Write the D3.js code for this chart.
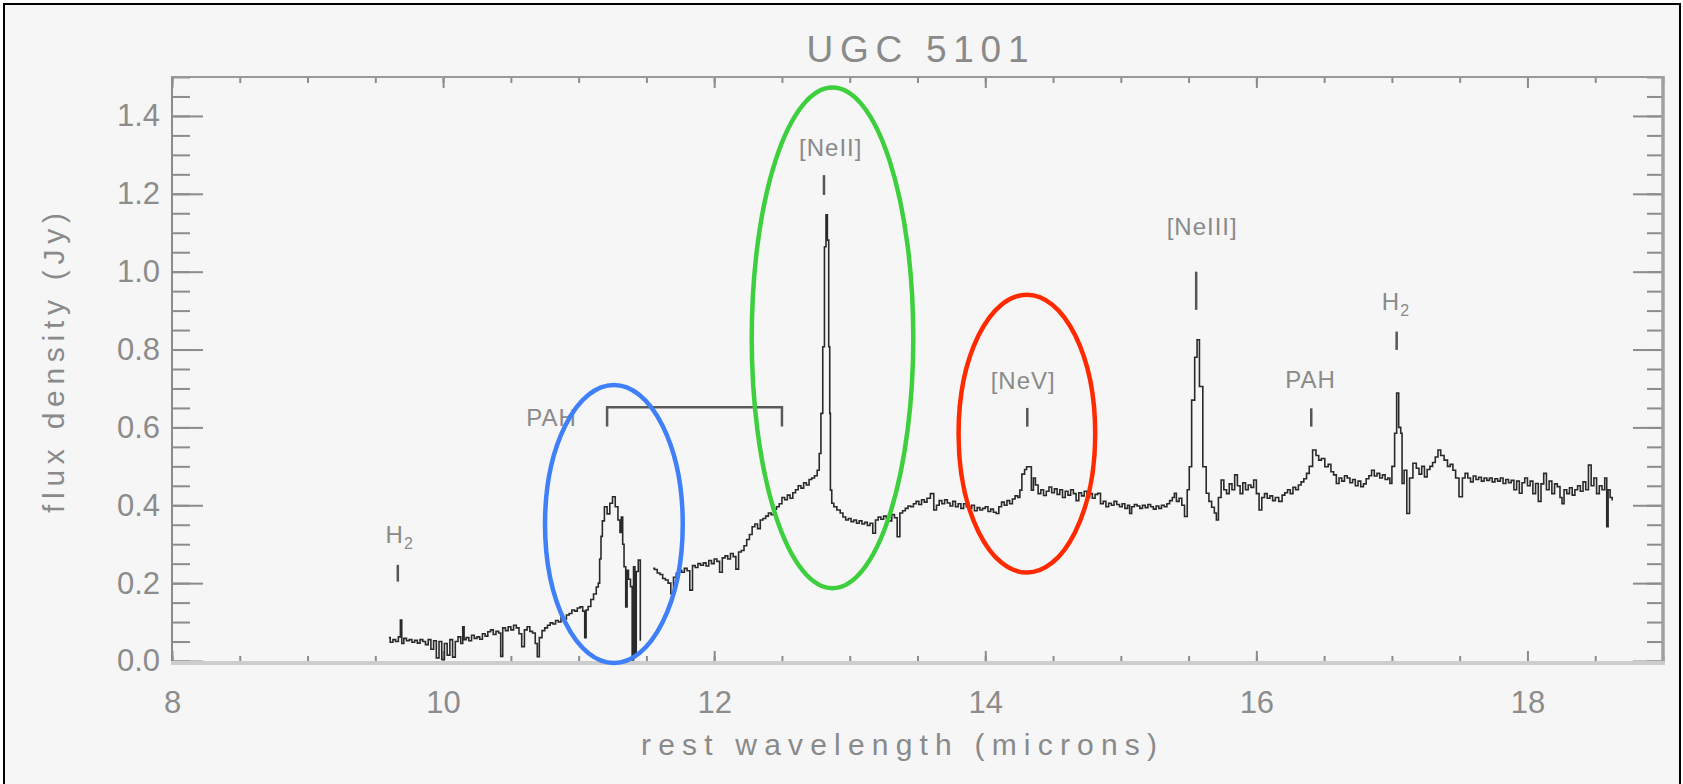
<!DOCTYPE html>
<html>
<head>
<meta charset="utf-8">
<script src="https://cdn.jsdelivr.net/npm/d3@7"></script>
<style>
body { margin: 0; background: #fff; }
svg text { font-family: "Liberation Sans", Arial, sans-serif; }
</style>
</head>
<body>
<div class="chart"></div>
<script>
var w = 1683;
var h = 784;

// spectrum (microns, Jy); null marks the gap between the two orders
var wavelength = [
  9.60, 9.62, 9.64, 9.66, 9.68, 9.69, 9.70, 9.72, 9.74, 9.76, 9.78, 9.80, 9.82, 9.84, 9.86, 9.88,
  9.90, 9.92, 9.94, 9.96, 9.98, 10.00, 10.02, 10.04, 10.06, 10.08, 10.10, 10.12, 10.14, 10.15, 10.16,
  10.18, 10.20, 10.22, 10.24, 10.26, 10.28, 10.30, 10.32, 10.34, 10.36, 10.38, 10.40, 10.42, 10.43,
  10.45, 10.47, 10.49, 10.51, 10.53, 10.55, 10.57, 10.59, 10.61, 10.63, 10.65, 10.67, 10.69, 10.70,
  10.72, 10.74, 10.76, 10.78, 10.80, 10.82, 10.84, 10.86, 10.88, 10.90, 10.92, 10.94, 10.96, 10.98,
  11.00, 11.02, 11.04, 11.05, 11.06, 11.08, 11.10, 11.12, 11.14, 11.15, 11.16, 11.17, 11.18, 11.20,
  11.22, 11.24, 11.26, 11.28, 11.30, 11.31, 11.32, 11.33, 11.34, 11.355, 11.36, 11.375, 11.39, 11.40,
  11.41, 11.42, 11.43, 11.45, 11.46,
  11.50,
  11.55, 11.57, 11.59, 11.61, 11.63, 11.65, 11.67, 11.69, 11.71, 11.73, 11.75, 11.77, 11.79, 11.81,
  11.83, 11.85, 11.87, 11.89, 11.91, 11.93, 11.95, 11.97, 11.99, 12.01, 12.03, 12.05, 12.07, 12.09,
  12.11, 12.13, 12.15, 12.17, 12.19, 12.21, 12.23, 12.25, 12.27, 12.29, 12.31, 12.33, 12.35, 12.37,
  12.39, 12.41, 12.43, 12.45, 12.47, 12.49, 12.51, 12.53, 12.55, 12.57, 12.59, 12.61, 12.63, 12.65,
  12.67, 12.69, 12.71, 12.73, 12.75, 12.77, 12.78, 12.795, 12.807, 12.82, 12.83, 12.84, 12.85, 12.855,
  12.86, 12.875, 12.89, 12.92, 12.94, 12.96, 12.98, 13.00, 13.02, 13.04, 13.06, 13.08, 13.10, 13.12,
  13.14, 13.16, 13.18, 13.20, 13.22, 13.24, 13.26, 13.28, 13.30, 13.32, 13.34, 13.36, 13.38, 13.40,
  13.42, 13.44, 13.46, 13.48, 13.50, 13.52, 13.54, 13.56, 13.58, 13.61, 13.63, 13.65, 13.67, 13.69,
  13.71, 13.73, 13.75, 13.77, 13.79, 13.81, 13.83, 13.85, 13.87, 13.89, 13.91, 13.93, 13.95, 13.97,
  13.99, 14.01, 14.03, 14.05, 14.07, 14.09, 14.11, 14.13, 14.15, 14.17, 14.19, 14.21, 14.23, 14.25,
  14.26, 14.28, 14.30, 14.31, 14.33, 14.35, 14.36, 14.38, 14.40, 14.42, 14.44, 14.46, 14.48, 14.50,
  14.52, 14.54, 14.56, 14.58, 14.60, 14.62, 14.64, 14.66, 14.68, 14.70, 14.72, 14.74, 14.76, 14.78,
  14.80, 14.82, 14.84, 14.86, 14.88, 14.90, 14.92, 14.94, 14.96, 14.98, 15.00, 15.02, 15.04, 15.06,
  15.07, 15.09, 15.11, 15.13, 15.15, 15.17, 15.19, 15.21, 15.23, 15.25, 15.27, 15.29, 15.31, 15.33,
  15.35, 15.37, 15.39, 15.40, 15.42, 15.44, 15.46, 15.48, 15.50, 15.51, 15.535, 15.555, 15.57, 15.59,
  15.62, 15.64, 15.66, 15.68, 15.70, 15.71, 15.73, 15.75, 15.77, 15.79, 15.81, 15.83, 15.85, 15.87,
  15.89, 15.91, 15.93, 15.95, 15.97, 15.99, 16.01, 16.03, 16.05, 16.07, 16.09, 16.11, 16.13, 16.15,
  16.18, 16.20, 16.22, 16.24, 16.26, 16.28, 16.30, 16.32, 16.34, 16.36, 16.38, 16.40, 16.43, 16.45,
  16.47, 16.49, 16.52, 16.54, 16.56, 16.58, 16.60, 16.62, 16.64, 16.66, 16.68, 16.70, 16.72, 16.74,
  16.76, 16.78, 16.80, 16.82, 16.84, 16.86, 16.88, 16.90, 16.92, 16.94, 16.96, 16.98, 16.99, 17.01,
  17.03, 17.04, 17.06, 17.07, 17.08, 17.10, 17.12, 17.14, 17.17, 17.19, 17.21, 17.23, 17.25, 17.27,
  17.29, 17.31, 17.33, 17.35, 17.37, 17.40, 17.42, 17.44, 17.46, 17.48, 17.51, 17.53, 17.55, 17.57,
  17.59, 17.61, 17.63, 17.65, 17.67, 17.69, 17.71, 17.73, 17.75, 17.77, 17.79, 17.81, 17.83, 17.85,
  17.87, 17.89, 17.91, 17.93, 17.95, 17.97, 17.99, 18.01, 18.03, 18.05, 18.07, 18.09, 18.11, 18.13,
  18.15, 18.17, 18.19, 18.21, 18.23, 18.25, 18.26, 18.28, 18.30, 18.32, 18.34, 18.36, 18.38, 18.40,
  18.42, 18.44, 18.46, 18.48, 18.50, 18.52, 18.54, 18.56, 18.58, 18.59, 18.60, 18.62, 18.63
];

var flux = [
  0.060, 0.048, 0.055, 0.050, 0.062, 0.105, 0.045, 0.058, 0.052, 0.055, 0.048, 0.053, 0.046, 0.055, 0.050, 0.042,
  0.055, 0.030, 0.052, 0.008, 0.050, 0.004, 0.045, 0.015, 0.055, 0.010, 0.050, 0.062, 0.045, 0.088, 0.055,
  0.060, 0.052, 0.066, 0.058, 0.062, 0.056, 0.070, 0.064, 0.075, 0.080, 0.068, 0.076, 0.072, 0.012,
  0.085, 0.078, 0.088, 0.080, 0.092, 0.085, 0.070, 0.037, 0.080, 0.088, 0.076, 0.072, 0.045, 0.011,
  0.060, 0.078, 0.085, 0.092, 0.098, 0.095, 0.104, 0.100, 0.112, 0.108, 0.118, 0.122, 0.131, 0.128,
  0.136, 0.139, 0.128, 0.060, 0.131, 0.140, 0.158, 0.172, 0.190, 0.200, 0.262, 0.320, 0.360, 0.396,
  0.378, 0.405, 0.422, 0.396, 0.362, 0.330, 0.370, 0.300, 0.242, 0.139, 0.233, 0.210, 0.191, 0.003,
  0.242, 0.020, 0.230, 0.259, 0.054,
  null,
  0.238, 0.235, 0.226, 0.222, 0.212, 0.208, 0.200, 0.173, 0.215, 0.225, 0.233, 0.228, 0.238, 0.232,
  0.182, 0.245, 0.240, 0.250, 0.246, 0.252, 0.244, 0.258, 0.250, 0.262, 0.256, 0.228, 0.265, 0.270,
  0.262, 0.276, 0.268, 0.236, 0.280, 0.284, 0.296, 0.312, 0.325, 0.345, 0.352, 0.340, 0.362, 0.366,
  0.372, 0.380, 0.376, 0.390, 0.396, 0.404, 0.420, 0.414, 0.426, 0.418, 0.432, 0.440, 0.450, 0.444,
  0.458, 0.452, 0.466, 0.470, 0.476, 0.490, 0.533, 0.636, 0.807, 1.064, 1.146, 1.081, 0.807, 0.636,
  0.439, 0.405, 0.396, 0.388, 0.380, 0.370, 0.362, 0.366, 0.358, 0.362, 0.354, 0.360, 0.352, 0.356,
  0.348, 0.354, 0.328, 0.362, 0.370, 0.364, 0.372, 0.366, 0.360, 0.376, 0.368, 0.319, 0.380, 0.386,
  0.392, 0.398, 0.396, 0.404, 0.410, 0.402, 0.414, 0.408, 0.418, 0.430, 0.388, 0.400, 0.412, 0.404,
  0.414, 0.406, 0.398, 0.410, 0.396, 0.404, 0.392, 0.404, 0.396, 0.392, 0.400, 0.386, 0.394, 0.388,
  0.392, 0.396, 0.384, 0.390, 0.382, 0.379, 0.396, 0.408, 0.400, 0.412, 0.404, 0.416, 0.424, 0.420,
  0.439, 0.480, 0.492, 0.499, 0.499, 0.439, 0.470, 0.452, 0.430, 0.440, 0.425, 0.436, 0.447, 0.432,
  0.442, 0.428, 0.440, 0.420, 0.436, 0.426, 0.440, 0.430, 0.412, 0.432, 0.424, 0.436, 0.420, 0.430,
  0.418, 0.428, 0.431, 0.404, 0.410, 0.396, 0.405, 0.400, 0.410, 0.402, 0.396, 0.404, 0.392, 0.400,
  0.379, 0.396, 0.402, 0.398, 0.392, 0.400, 0.394, 0.402, 0.396, 0.390, 0.398, 0.392, 0.400, 0.396,
  0.404, 0.412, 0.420, 0.431, 0.410, 0.418, 0.400, 0.371, 0.440, 0.499, 0.670, 0.780, 0.825, 0.705,
  0.499, 0.431, 0.410, 0.395, 0.380, 0.362, 0.420, 0.465, 0.440, 0.430, 0.455, 0.440, 0.478, 0.450,
  0.430, 0.458, 0.440, 0.452, 0.446, 0.465, 0.430, 0.388, 0.420, 0.430, 0.418, 0.424, 0.412, 0.420,
  0.410, 0.426, 0.432, 0.440, 0.430, 0.446, 0.440, 0.452, 0.460, 0.468, 0.482, 0.500, 0.542, 0.528,
  0.516, 0.520, 0.499, 0.505, 0.486, 0.478, 0.456, 0.470, 0.462, 0.476, 0.470, 0.458, 0.466, 0.450,
  0.462, 0.448, 0.455, 0.468, 0.476, 0.490, 0.475, 0.482, 0.470, 0.478, 0.466, 0.470, 0.456, 0.500,
  0.585, 0.688, 0.600, 0.585, 0.456, 0.490, 0.379, 0.470, 0.508, 0.495, 0.480, 0.500, 0.473, 0.492,
  0.500, 0.510, 0.524, 0.542, 0.528, 0.516, 0.500, 0.505, 0.490, 0.470, 0.422, 0.470, 0.482, 0.470,
  0.460, 0.475, 0.466, 0.472, 0.462, 0.470, 0.464, 0.470, 0.460, 0.468, 0.462, 0.470, 0.456, 0.466,
  0.458, 0.464, 0.440, 0.462, 0.431, 0.458, 0.470, 0.450, 0.462, 0.430, 0.456, 0.410, 0.455, 0.482,
  0.440, 0.462, 0.430, 0.455, 0.448, 0.420, 0.404, 0.440, 0.430, 0.445, 0.426, 0.440, 0.450, 0.436,
  0.460, 0.440, 0.503, 0.450, 0.470, 0.430, 0.450, 0.440, 0.470, 0.345, 0.440, 0.420, 0.414
];

var xTicks = [8, 10, 12, 14, 16, 18];
var yTicks = [0.0, 0.2, 0.4, 0.6, 0.8, 1.0, 1.2, 1.4];

// line identifications: marker position and label
var lineNames = ["H2", "[NeII]", "[NeV]", "[NeIII]", "PAH", "H2"];
var lineWaves = [9.666, 12.81, 14.31, 15.556, 16.405, 17.035];
var markTop = [0.247, 1.248, 0.650, 1.000, 0.649, 0.846];
var markBottom = [0.204, 1.197, 0.602, 0.902, 0.602, 0.799];
var labelWaves = [9.68, 12.86, 14.28, 15.60, 16.40, 17.03];
var labelFlux = [0.302, 1.297, 0.698, 1.094, 0.700, 0.902];

// 11.3 micron PAH complex bracket
var pahLabel = "PAH";
var pahLabelAt = [10.80, 0.603];
var pahBracket = [11.21, 12.50];
var pahBracketFlux = [0.652, 0.602];

// highlighted features
var ringCenters = [[11.26, 0.352], [12.873, 0.830], [14.307, 0.584]];
var ringRadii = [[0.508, 0.357], [0.596, 0.643], [0.504, 0.357]];
var ringColors = ["#3f7ff8", "#3dcf3d", "#ff2a00"];

var xScale = d3.scaleLinear()
    .domain([8, 19])
    .range([172, 1663]);

var yScale = d3.scaleLinear()
    .domain([0, 1.5])
    .range([661, 77]);

var svg = d3.select(".chart")
    .append("svg")
    .attr("width", w)
    .attr("height", h);

svg.append("rect")
    .attr("x", 4)
    .attr("y", 4)
    .attr("width", 1676)
    .attr("height", 800)
    .attr("fill", "#f6f6f6")
    .attr("stroke", "#000")
    .attr("stroke-width", 2);

svg.append("text")
    .attr("x", 917.5)
    .attr("y", 62)
    .attr("text-anchor", "middle")
    .attr("font-size", 37)
    .attr("fill", "#8a8a8a")
    .attr("textLength", 222)
    .attr("lengthAdjust", "spacing")
    .text("UGC 5101");

// axes
function styleAxis(g, size) {
    g.attr("font-size", size)
        .attr("font-family", "Liberation Sans, Arial, sans-serif")
        .style("color", "#8c8c8c");
    g.selectAll(".tick line").attr("stroke-width", 2);
    g.select(".domain").remove();
}

var minorX = d3.range(8, 19.001, 0.5);
var minorY = d3.range(0, 1.5001, 0.05);

svg.append("g")
    .attr("transform", "translate(0,661)")
    .call(d3.axisBottom(xScale).tickValues(minorX).tickSize(-5).tickFormat(""))
    .call(styleAxis, 31);
svg.append("g")
    .attr("transform", "translate(0,661)")
    .call(d3.axisBottom(xScale).tickValues(xTicks).tickSize(-10).tickPadding(30).tickFormat(d3.format("d")))
    .call(styleAxis, 31);
svg.append("g")
    .attr("transform", "translate(0,77)")
    .call(d3.axisTop(xScale).tickValues(minorX).tickSize(-6).tickFormat(""))
    .call(styleAxis, 31);
svg.append("g")
    .attr("transform", "translate(0,77)")
    .call(d3.axisTop(xScale).tickValues(xTicks).tickSize(-11).tickFormat(""))
    .call(styleAxis, 31);

svg.append("g")
    .attr("transform", "translate(172,0)")
    .call(d3.axisLeft(yScale).tickValues(minorY).tickSize(-18).tickFormat(""))
    .call(styleAxis, 31);
svg.append("g")
    .attr("transform", "translate(172,0)")
    .call(d3.axisLeft(yScale).tickValues(yTicks).tickSize(-31).tickPadding(12).tickFormat(d3.format(".1f")))
    .call(styleAxis, 31);
svg.append("g")
    .attr("transform", "translate(1663,0)")
    .call(d3.axisRight(yScale).tickValues(minorY).tickSize(-16).tickFormat(""))
    .call(styleAxis, 31);
svg.append("g")
    .attr("transform", "translate(1663,0)")
    .call(d3.axisRight(yScale).tickValues(yTicks).tickSize(-30).tickFormat(""))
    .call(styleAxis, 31);

// frame of the plot box
svg.append("line")
    .attr("x1", 172).attr("x2", 172).attr("y1", 76).attr("y2", 663)
    .attr("stroke", "#8c8c8c").attr("stroke-width", 2);
svg.append("line")
    .attr("x1", 171).attr("x2", 1664).attr("y1", 77).attr("y2", 77)
    .attr("stroke", "#999").attr("stroke-width", 2);
svg.append("line")
    .attr("x1", 1663).attr("x2", 1663).attr("y1", 76).attr("y2", 665)
    .attr("stroke", "#a0a0a0").attr("stroke-width", 3.5);
svg.append("line")
    .attr("x1", 171).attr("x2", 1665).attr("y1", 663).attr("y2", 663)
    .attr("stroke", "#cdcdcd").attr("stroke-width", 4);

svg.append("text")
    .attr("x", 899)
    .attr("y", 755)
    .attr("text-anchor", "middle")
    .attr("font-size", 30)
    .attr("fill", "#8a8a8a")
    .attr("textLength", 516)
    .attr("lengthAdjust", "spacing")
    .text("rest wavelength (microns)");

svg.append("text")
    .attr("transform", "translate(64,363) rotate(-90)")
    .attr("text-anchor", "middle")
    .attr("font-size", 30)
    .attr("fill", "#8a8a8a")
    .attr("textLength", 300)
    .attr("lengthAdjust", "spacing")
    .text("flux density (Jy)");

// spectrum
var points = wavelength.map(function(d, i) {
    return [d, flux[i]];
});

var line = d3.line()
    .defined(function(d) { return d[1] !== null; })
    .x(function(d) { return xScale(d[0]); })
    .y(function(d) { return yScale(d[1]); })
    .curve(d3.curveStep);

svg.append("path")
    .datum(points)
    .attr("d", line)
    .attr("fill", "none")
    .attr("stroke", "#2a2a2a")
    .attr("stroke-width", 1.6);

// line markers and labels
svg.selectAll(".mark")
    .data(lineWaves)
    .enter()
    .append("line")
    .attr("class", "mark")
    .attr("x1", function(d) { return xScale(d); })
    .attr("x2", function(d) { return xScale(d); })
    .attr("y1", function(d, i) { return yScale(markTop[i]); })
    .attr("y2", function(d, i) { return yScale(markBottom[i]); })
    .attr("stroke", "#555")
    .attr("stroke-width", 2.5);

var labels = svg.selectAll(".linelabel")
    .data(lineNames)
    .enter()
    .append("text")
    .attr("class", "linelabel")
    .attr("x", function(d, i) { return xScale(labelWaves[i]); })
    .attr("y", function(d, i) { return yScale(labelFlux[i]); })
    .attr("text-anchor", "middle")
    .attr("font-size", 24)
    .attr("letter-spacing", 1)
    .attr("fill", "#8a8a8a");

labels.each(function(d) {
    var t = d3.select(this);
    if (d === "H2") {
        t.append("tspan").text("H");
        t.append("tspan").attr("font-size", 16).attr("dy", 6).text("2");
    } else {
        t.text(d);
    }
});

svg.append("text")
    .attr("x", xScale(pahLabelAt[0]))
    .attr("y", yScale(pahLabelAt[1]))
    .attr("text-anchor", "middle")
    .attr("font-size", 24)
    .attr("letter-spacing", 1)
    .attr("fill", "#8a8a8a")
    .text(pahLabel);

svg.append("path")
    .attr("d", "M" + xScale(pahBracket[0]) + "," + yScale(pahBracketFlux[1]) +
        "V" + yScale(pahBracketFlux[0]) +
        "H" + xScale(pahBracket[1]) +
        "V" + yScale(pahBracketFlux[1]))
    .attr("fill", "none")
    .attr("stroke", "#5a5a5a")
    .attr("stroke-width", 2.5);

// coloured ellipses
svg.selectAll(".ring")
    .data(ringCenters)
    .enter()
    .append("ellipse")
    .attr("class", "ring")
    .attr("cx", function(d) { return xScale(d[0]); })
    .attr("cy", function(d) { return yScale(d[1]); })
    .attr("rx", function(d, i) { return xScale(d[0] + ringRadii[i][0]) - xScale(d[0]); })
    .attr("ry", function(d, i) { return yScale(0) - yScale(ringRadii[i][1]); })
    .attr("fill", "none")
    .attr("stroke", function(d, i) { return ringColors[i]; })
    .attr("stroke-width", 4.5);
</script>
</body>
</html>
